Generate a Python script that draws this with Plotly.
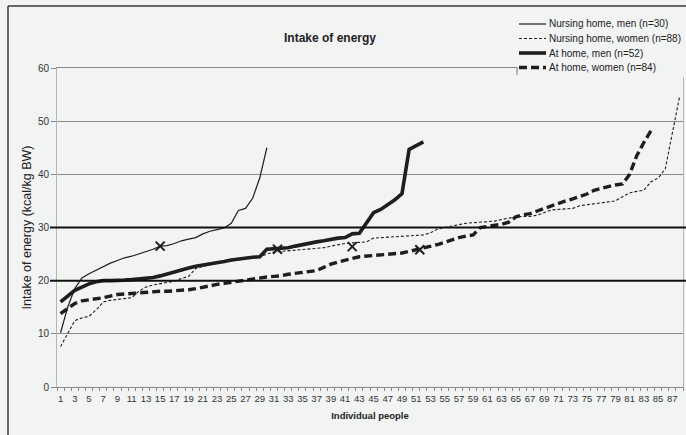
import plotly.graph_objects as go

# ---- chart text ----
title = "Intake of energy"
x_title = "Individual people"
y_title = "Intake of energy (kcal/kg BW)"

series_names = [
    "Nursing home, men (n=30)",
    "Nursing home, women (n=88)",
    "At home, men (n=52)",
    "At home, women (n=84)",
]

# ---- energy intake per person, sorted ascending (kcal/kg BW) ----
nursing_men = [
    10.2, 15.0, 18.5, 20.5, 21.3, 22.0, 22.6, 23.3, 23.8, 24.3,
    24.6, 25.0, 25.4, 25.9, 26.5, 26.6, 27.0, 27.5, 27.8, 28.1,
    28.8, 29.3, 29.6, 29.9, 30.8, 33.2, 33.6, 35.5, 39.3, 45.0,
]
nursing_women = [
    7.6, 10.0, 12.5, 13.0, 13.3, 14.5, 16.0, 16.3, 16.5, 16.6,
    16.8, 18.0, 18.8, 19.2, 19.4, 19.6, 19.9, 20.4, 20.8, 22.3,
    22.7, 23.0, 23.3, 23.5, 23.8, 24.0, 24.1, 24.3, 24.5, 25.0,
    25.4, 25.5, 25.6, 25.8, 25.9, 26.0, 26.1, 26.2, 26.5, 26.8,
    27.0, 27.1, 27.2, 27.3, 28.0, 28.1, 28.2, 28.3, 28.4, 28.5,
    28.5, 28.6, 29.0, 29.7, 30.0, 30.3, 30.5, 30.8, 30.9, 31.0,
    31.1, 31.2, 31.5, 31.8, 32.0, 32.1, 32.1, 32.3, 32.8, 33.3,
    33.4, 33.5, 33.6, 34.1, 34.3, 34.5, 34.6, 34.8, 35.0, 35.8,
    36.5, 36.8, 37.0, 38.6, 39.3, 41.0, 48.0, 54.5,
]
home_men = [
    16.0, 17.2, 18.2, 18.8, 19.4, 19.8, 20.0, 20.0, 20.0, 20.1,
    20.2, 20.3, 20.5, 20.6, 20.9, 21.3, 21.7, 22.1, 22.4, 22.7,
    22.9, 23.1, 23.4, 23.6, 23.9, 24.1, 24.2, 24.4, 24.5, 25.9,
    26.0, 26.1, 26.2, 26.5, 26.8, 27.0, 27.3, 27.5, 27.8, 28.0,
    28.1, 28.8, 28.9, 30.8, 32.8, 33.4, 34.3, 35.2, 36.4, 44.7,
    45.4, 46.1,
]
home_women = [
    13.8, 14.8, 15.7, 16.2, 16.4, 16.5, 16.8, 17.1, 17.4, 17.5,
    17.6, 17.7, 17.9, 17.9, 18.0, 18.0, 18.1, 18.1, 18.3, 18.5,
    18.8, 19.0, 19.3, 19.5, 19.7, 20.0, 20.2, 20.4, 20.6, 20.7,
    20.8, 20.9, 21.2, 21.4, 21.6, 21.8, 21.9, 22.5, 23.1, 23.5,
    23.9, 24.2, 24.5, 24.6, 24.7, 24.8, 24.9, 25.0, 25.2, 25.5,
    25.8, 26.1, 26.4, 26.8, 27.2, 27.7, 28.1, 28.4, 28.6, 30.0,
    30.2, 30.4, 30.6, 31.0, 32.0, 32.4, 32.6, 33.1, 33.6, 34.0,
    34.5, 35.0, 35.4, 35.8, 36.3, 37.0, 37.4, 37.7, 38.0, 38.2,
    40.0, 43.5, 46.0, 48.2,
]
series_values = [nursing_men, nursing_women, home_men, home_women]

# cross marks along the curves
marker_x = [15, 31.5, 42, 51.5]
marker_y = [26.5, 25.9, 26.4, 25.8]

# reference levels of recommended intake
limits = [20, 30]

x_tick_labels = list(range(1, 88, 2))
y_ticks = [0, 10, 20, 30, 40, 50, 60]

# ---- styling ----
BG = "#f2f3f3"
INK = "#1e1e1e"
FONT = "Arial, Liberation Sans, sans-serif"
line_styles = [
    dict(width=1.2, dash="solid"),
    dict(width=1.1, dash="3px,2px"),
    dict(width=3.6, dash="solid"),
    dict(width=3.4, dash="8px,4px"),
]

fig = go.Figure()
for name, vals, st in zip(series_names, series_values, line_styles):
    fig.add_trace(go.Scatter(
        x=list(range(1, len(vals) + 1)), y=vals, name=name, mode="lines",
        line=dict(color=INK, width=st["width"], dash=st["dash"]),
        showlegend=False, hoverinfo="skip",
    ))

fig.add_trace(go.Scatter(
    x=marker_x, y=marker_y, mode="markers", showlegend=False, hoverinfo="skip",
    marker=dict(symbol="x-thin", size=9, line=dict(color=INK, width=2)),
))

# paper-coordinate helpers for a 686x435 canvas
W, H = 686, 435
ML, MR, MT, MB = 57, 3, 68, 48
PW, PH = W - ML - MR, H - MT - MB


def px(xp):
    return (xp - ML) / PW


def py(yp):
    return (H - MB - yp) / PH


shapes = []
# heavy reference lines
for lv in limits:
    shapes.append(dict(type="line", xref="paper", yref="y", x0=px(50), x1=px(686),
                       y0=lv, y1=lv, line=dict(color="#111", width=2), layer="above"))

# legend panel background (covers the plot frame corner)
shapes.append(dict(type="rect", xref="paper", yref="paper", x0=px(517.5), x1=px(690),
                   y0=py(77), y1=py(10), fillcolor=BG, line=dict(width=0), layer="above"))
shapes.append(dict(type="line", xref="paper", yref="paper", x0=px(517), x1=px(517),
                   y0=py(68), y1=py(75), line=dict(color="#777", width=1), layer="above"))

# outer chart frame
shapes.append(dict(type="line", xref="paper", yref="paper", x0=px(8), x1=px(8),
                   y0=py(6), y1=py(440), line=dict(color="#3a3a3a", width=1.5), layer="above"))
shapes.append(dict(type="line", xref="paper", yref="paper", x0=px(8), x1=px(690),
                   y0=py(6), y1=py(6), line=dict(color="#3a3a3a", width=1.5), layer="above"))

annotations = []
# legend entries
legend_rows = [24, 38.5, 53, 67.5]
for name, st, yr in zip(series_names, line_styles, legend_rows):
    shapes.append(dict(type="line", xref="paper", yref="paper", x0=px(519), x1=px(546),
                       y0=py(yr), y1=py(yr),
                       line=dict(color=INK, width=st["width"], dash=st["dash"]),
                       layer="above"))
    annotations.append(dict(text=name, xref="paper", yref="paper", x=px(546.5), y=py(yr),
                            xanchor="left", yanchor="middle", showarrow=False,
                            font=dict(family=FONT, size=10, color="#222")))

annotations.append(dict(text="<b>" + title + "</b>", xref="paper", yref="paper",
                        x=px(330), y=py(38), xanchor="center", yanchor="middle",
                        showarrow=False, font=dict(family=FONT, size=12, color="#222")))

fig.update_layout(
    width=W, height=H,
    margin=dict(l=ML, r=MR, t=MT, b=MB, pad=0),
    paper_bgcolor=BG, plot_bgcolor=BG,
    font=dict(family=FONT, color="#333"),
    shapes=shapes, annotations=annotations,
    xaxis=dict(
        range=[0.5, 88.5], tickmode="array", tickvals=x_tick_labels,
        ticktext=[str(v) for v in x_tick_labels], ticks="", showgrid=False,
        zeroline=False, showline=True, mirror=True, linecolor="#8a8a8a", linewidth=1,
        tickfont=dict(size=9.5, color="#333"), ticklabelstandoff=3,
        minor=dict(tickmode="array", tickvals=[v + 0.5 for v in range(0, 89)],
                   ticks="outside", ticklen=3, tickcolor="#888", showgrid=False),
        title=dict(text="<b>" + x_title + "</b>", font=dict(size=9.5, color="#222"), standoff=8),
    ),
    yaxis=dict(
        range=[0, 60], tickmode="array", tickvals=y_ticks, ticks="outside", ticklen=5,
        tickcolor="#888", showgrid=True, gridcolor="#8a8a8a", gridwidth=1,
        zeroline=False, showline=True, mirror=True, linecolor="#b5b5b5", linewidth=1,
        tickfont=dict(size=10, color="#333"),
        title=dict(text=y_title, font=dict(size=12.5, color="#222"), standoff=3),
    ),
)

fig.write_html("out.html")
